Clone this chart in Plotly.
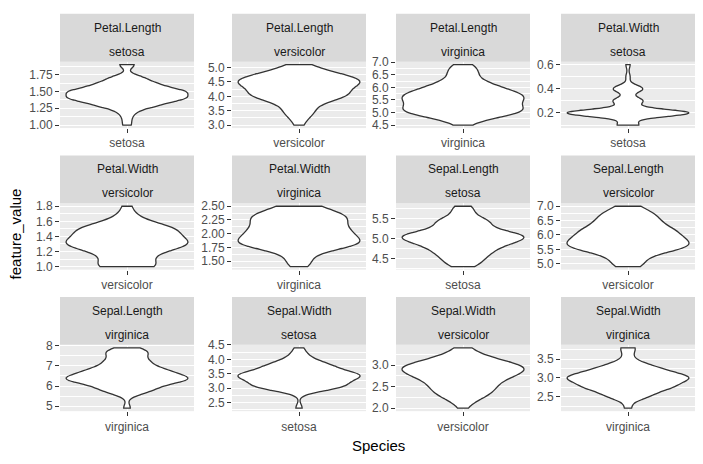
import numpy as np
import plotly.graph_objects as go

# ---- iris data ----
sepal_length = [5.1,4.9,4.7,4.6,5.0,5.4,4.6,5.0,4.4,4.9,5.4,4.8,4.8,4.3,5.8,5.7,5.4,5.1,5.7,5.1,
                5.4,5.1,4.6,5.1,4.8,5.0,5.0,5.2,5.2,4.7,4.8,5.4,5.2,5.5,4.9,5.0,5.5,4.9,4.4,5.1,
                5.0,4.5,4.4,5.0,5.1,4.8,5.1,4.6,5.3,5.0,
                7.0,6.4,6.9,5.5,6.5,5.7,6.3,4.9,6.6,5.2,5.0,5.9,6.0,6.1,5.6,6.7,5.6,5.8,6.2,5.6,
                5.9,6.1,6.3,6.1,6.4,6.6,6.8,6.7,6.0,5.7,5.5,5.5,5.8,6.0,5.4,6.0,6.7,6.3,5.6,5.5,
                5.5,6.1,5.8,5.0,5.6,5.7,5.7,6.2,5.1,5.7,
                6.3,5.8,7.1,6.3,6.5,7.6,4.9,7.3,6.7,7.2,6.5,6.4,6.8,5.7,5.8,6.4,6.5,7.7,7.7,6.0,
                6.9,5.6,7.7,6.3,6.7,7.2,6.2,6.1,6.4,7.2,7.4,7.9,6.4,6.3,6.1,7.7,6.3,6.4,6.0,6.9,
                6.7,6.9,5.8,6.8,6.7,6.7,6.3,6.5,6.2,5.9]
sepal_width = [3.5,3.0,3.2,3.1,3.6,3.9,3.4,3.4,2.9,3.1,3.7,3.4,3.0,3.0,4.0,4.4,3.9,3.5,3.8,3.8,
               3.4,3.7,3.6,3.3,3.4,3.0,3.4,3.5,3.4,3.2,3.1,3.4,4.1,4.2,3.1,3.2,3.5,3.6,3.0,3.4,
               3.5,2.3,3.2,3.5,3.8,3.0,3.8,3.2,3.7,3.3,
               3.2,3.2,3.1,2.3,2.8,2.8,3.3,2.4,2.9,2.7,2.0,3.0,2.2,2.9,2.9,3.1,3.0,2.7,2.2,2.5,
               3.2,2.8,2.5,2.8,2.9,3.0,2.8,3.0,2.9,2.6,2.4,2.4,2.7,2.7,3.0,3.4,3.1,2.3,3.0,2.5,
               2.6,3.0,2.6,2.3,2.7,3.0,2.9,2.9,2.5,2.8,
               3.3,2.7,3.0,2.9,3.0,3.0,2.5,2.9,2.5,3.6,3.2,2.7,3.0,2.5,2.8,3.2,3.0,3.8,2.6,2.2,
               3.2,2.8,2.8,2.7,3.3,3.2,2.8,3.0,2.8,3.0,2.8,3.8,2.8,2.8,2.6,3.0,3.4,3.1,3.0,3.1,
               3.1,3.1,2.7,3.2,3.3,3.0,2.5,3.0,3.4,3.0]
petal_length = [1.4,1.4,1.3,1.5,1.4,1.7,1.4,1.5,1.4,1.5,1.5,1.6,1.4,1.1,1.2,1.5,1.3,1.4,1.7,1.5,
                1.7,1.5,1.0,1.7,1.9,1.6,1.6,1.5,1.4,1.6,1.6,1.5,1.5,1.4,1.5,1.2,1.3,1.4,1.3,1.5,
                1.3,1.3,1.3,1.6,1.9,1.4,1.6,1.4,1.5,1.4,
                4.7,4.5,4.9,4.0,4.6,4.5,4.7,3.3,4.6,3.9,3.5,4.2,4.0,4.7,3.6,4.4,4.5,4.1,4.5,3.9,
                4.8,4.0,4.9,4.7,4.3,4.4,4.8,5.0,4.5,3.5,3.8,3.7,3.9,5.1,4.5,4.5,4.7,4.4,4.1,4.0,
                4.4,4.6,4.0,3.3,4.2,4.2,4.2,4.3,3.0,4.1,
                6.0,5.1,5.9,5.6,5.8,6.6,4.5,6.3,5.8,6.1,5.1,5.3,5.5,5.0,5.1,5.3,5.5,6.7,6.9,5.0,
                5.7,4.9,6.7,4.9,5.7,6.0,4.8,4.9,5.6,5.8,6.1,6.4,5.6,5.1,5.6,6.1,5.6,5.5,4.8,5.4,
                5.6,5.1,5.1,5.9,5.7,5.2,5.0,5.2,5.4,5.1]
petal_width = [0.2,0.2,0.2,0.2,0.2,0.4,0.3,0.2,0.2,0.1,0.2,0.2,0.1,0.1,0.2,0.4,0.4,0.3,0.3,0.3,
               0.2,0.4,0.2,0.5,0.2,0.2,0.4,0.2,0.2,0.2,0.2,0.4,0.1,0.2,0.2,0.2,0.2,0.1,0.2,0.2,
               0.3,0.3,0.2,0.6,0.4,0.3,0.2,0.2,0.2,0.2,
               1.4,1.5,1.5,1.3,1.5,1.3,1.6,1.0,1.3,1.4,1.0,1.5,1.0,1.4,1.3,1.4,1.5,1.0,1.5,1.1,
               1.8,1.3,1.5,1.2,1.3,1.4,1.4,1.7,1.5,1.0,1.1,1.0,1.2,1.6,1.5,1.6,1.5,1.3,1.3,1.3,
               1.2,1.4,1.2,1.0,1.3,1.2,1.3,1.3,1.1,1.3,
               2.5,1.9,2.1,1.8,2.2,2.1,1.7,1.8,1.8,2.5,2.0,1.9,2.1,2.0,2.4,2.3,1.8,2.2,2.3,1.5,
               2.3,2.0,2.0,1.8,2.1,1.8,1.8,1.8,2.1,1.6,1.9,2.0,2.2,1.5,1.4,2.3,2.4,1.8,1.8,2.1,
               2.4,2.3,1.9,2.3,2.5,2.3,1.9,2.0,2.3,1.8]
species_names = ["setosa", "versicolor", "virginica"]
species = [s for s in species_names for _ in range(50)]

feature_names = ["Petal.Length", "Petal.Width", "Sepal.Length", "Sepal.Width"]
feature_values = {"Petal.Length": petal_length, "Petal.Width": petal_width,
                  "Sepal.Length": sepal_length, "Sepal.Width": sepal_width}

# y tick labels per panel (row-major facet order)
y_tick_labels = [
    ["1.00", "1.25", "1.50", "1.75"],
    ["3.0", "3.5", "4.0", "4.5", "5.0"],
    ["4.5", "5.0", "5.5", "6.0", "6.5", "7.0"],
    ["0.2", "0.4", "0.6"],
    ["1.0", "1.2", "1.4", "1.6", "1.8"],
    ["1.50", "1.75", "2.00", "2.25", "2.50"],
    ["4.5", "5.0", "5.5"],
    ["5.0", "5.5", "6.0", "6.5", "7.0"],
    ["5", "6", "7", "8"],
    ["2.5", "3.0", "3.5", "4.0", "4.5"],
    ["2.0", "2.5", "3.0"],
    ["2.5", "3.0", "3.5"],
]

# ---- layout geometry (pixels) ----
W, H = 703, 464
col_px = [(60, 194), (232, 366), (396, 530), (561, 695)]
row_panel_px = [(56, 124), (201, 269), (346, 414)]
strip_h = 49

def fx(p):
    return p / W

def fy(p):
    return 1 - p / H

def bw_nrd0(x):
    x = np.asarray(x, dtype=float)
    hi = np.std(x, ddof=1)
    q75, q25 = np.percentile(x, [75, 25])
    lo = min(hi, (q75 - q25) / 1.34)
    if lo == 0:
        lo = hi if hi > 0 else (abs(x[0]) if x[0] != 0 else 1.0)
    return 0.9 * lo * len(x) ** (-0.2)

FONT = "Liberation Sans, Arial, sans-serif"
fig = go.Figure()
shapes, annotations = [], []
layout_axes = {}

idx = 0
for feat in feature_names:
    vals = np.asarray(feature_values[feat])
    for sp in species_names:
        sel = [v for v, s in zip(vals, species) if s == sp]
        r, c = divmod(idx, 4)
        k = idx + 1
        xs = "" if k == 1 else str(k)
        x0, x1 = col_px[c]
        y0, y1 = row_panel_px[r]
        fig.add_trace(go.Violin(
            x=[sp] * len(sel), y=sel,
            xaxis="x" + xs, yaxis="y" + xs,
            bandwidth=bw_nrd0(sel), spanmode="hard",
            scalemode="width", width=0.9,
            points=False, box_visible=False, meanline_visible=False,
            fillcolor="white", line=dict(color="#333333", width=1.3),
            showlegend=False, hoverinfo="skip",
        ))
        lo, hi = min(sel), max(sel)
        span = hi - lo
        ticks = [float(t) for t in y_tick_labels[idx]]
        step = ticks[1] - ticks[0]
        minor = [ticks[0] - step / 2] + [(a + b) / 2 for a, b in zip(ticks[:-1], ticks[1:])] + [ticks[-1] + step / 2]
        layout_axes["xaxis" + xs] = dict(
            domain=[fx(x0), fx(x1)], anchor="y" + xs, type="category",
            range=[-0.495, 0.495], showgrid=True, gridcolor="white", gridwidth=1.2,
            ticks="outside", ticklen=4, tickcolor="#333333", tickwidth=1,
            tickfont=dict(family=FONT, size=12, color="#4D4D4D"),
            showline=False, zeroline=False, fixedrange=True,
        )
        layout_axes["yaxis" + xs] = dict(
            domain=[fy(y1), fy(y0)], anchor="x" + xs,
            range=[lo - 0.05 * span, hi + 0.05 * span],
            tickmode="array", tickvals=ticks, ticktext=y_tick_labels[idx],
            showgrid=True, gridcolor="white", gridwidth=1.2,
            minor=dict(tickmode="array", tickvals=minor, showgrid=True,
                       gridcolor="white", gridwidth=0.6, ticks=""),
            ticks="outside", ticklen=4, tickcolor="#333333", tickwidth=1,
            tickfont=dict(family=FONT, size=12, color="#4D4D4D"),
            showline=False, zeroline=False, fixedrange=True,
        )
        # strip
        st = y0 - strip_h
        shapes.append(dict(type="rect", xref="paper", yref="paper",
                           x0=fx(x0), x1=fx(x1), y0=fy(y0), y1=fy(st),
                           fillcolor="#D9D9D9", line=dict(width=0), layer="below"))
        annotations.append(dict(text=feat, xref="paper", yref="paper",
                                x=fx((x0 + x1) / 2), y=fy(st + 14), showarrow=False,
                                xanchor="center", yanchor="middle",
                                font=dict(family=FONT, size=12, color="#1A1A1A")))
        annotations.append(dict(text=sp, xref="paper", yref="paper",
                                x=fx((x0 + x1) / 2), y=fy(st + 39), showarrow=False,
                                xanchor="center", yanchor="middle",
                                font=dict(family=FONT, size=12, color="#1A1A1A")))
        idx += 1

annotations.append(dict(text="feature_value", xref="paper", yref="paper",
                        x=fx(15), y=fy(233), showarrow=False, textangle=-90,
                        xanchor="center", yanchor="middle",
                        font=dict(family=FONT, size=15, color="black")))
annotations.append(dict(text="Species", xref="paper", yref="paper",
                        x=fx(378), y=fy(449), showarrow=False,
                        xanchor="center", yanchor="middle",
                        font=dict(family=FONT, size=15, color="black")))

fig.update_layout(
    width=W, height=H, autosize=False,
    margin=dict(l=0, r=0, t=0, b=0),
    paper_bgcolor="white", plot_bgcolor="#EBEBEB",
    shapes=shapes, annotations=annotations,
    violingap=0, violingroupgap=0,
    **layout_axes,
)

fig.write_html("out.html")
